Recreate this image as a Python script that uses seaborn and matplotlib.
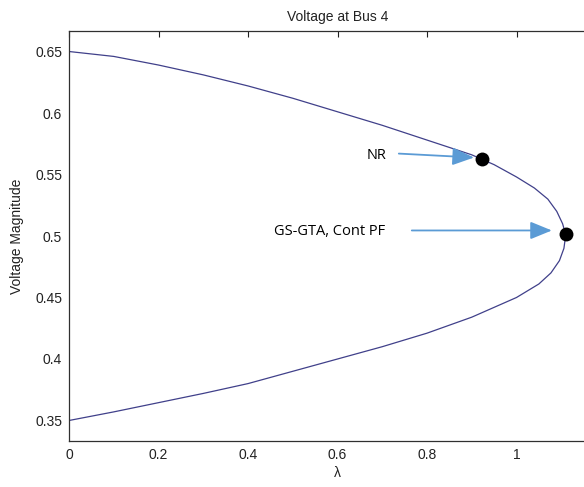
import numpy as np
import pandas as pd
import matplotlib
matplotlib.use("Agg")
import matplotlib.pyplot as plt
import seaborn as sns
from matplotlib.ticker import FuncFormatter

# PV (nose) curve: lambda vs voltage magnitude, traced from upper branch to lower branch
lam = [0.0, 0.1, 0.2, 0.3, 0.4, 0.5, 0.6, 0.7, 0.8, 0.9, 0.95, 1.0, 1.04, 1.07,
       1.09, 1.103, 1.110, 1.106, 1.096, 1.077, 1.05, 1.0, 0.95, 0.9, 0.8, 0.7,
       0.6, 0.5, 0.4, 0.3, 0.2, 0.1, 0.0]
volt = [0.650, 0.646, 0.639, 0.631, 0.622, 0.612, 0.601, 0.590, 0.578, 0.566, 0.558,
        0.548, 0.539, 0.530, 0.520, 0.510, 0.501, 0.490, 0.480, 0.470, 0.461, 0.450,
        0.442, 0.434, 0.421, 0.410, 0.400, 0.390, 0.380, 0.372, 0.3645, 0.357, 0.350]

# Solution points
pt_names = ["NR", "GS-GTA, Cont PF"]
pt_lam = [0.923, 1.110]
pt_volt = [0.563, 0.502]

# Annotation text positions and arrow tails / heads
txt_x = [0.664, 0.458]
txt_y = [0.5655, 0.5037]
tail_x = [0.737, 0.766]
tail_y = [0.567, 0.5045]
head_x = [0.905, 1.079]
head_y = [0.5638, 0.5045]

xticks = [0, 0.2, 0.4, 0.6, 0.8, 1]
yticks = [0.35, 0.4, 0.45, 0.5, 0.55, 0.6, 0.65]

sns.set_theme(style="white")
plt.rcParams['font.family'] = ['Liberation Sans', 'DejaVu Sans']

fig = plt.figure(figsize=(5.84, 4.87), dpi=100)
ax = fig.add_axes([69/584, 46/487, 537/584, 410/487])

curve = pd.DataFrame({"lam": lam, "volt": volt})
sns.lineplot(data=curve, x="lam", y="volt", sort=False, estimator=None,
             color="#40408a", linewidth=0.9, ax=ax)

pts = pd.DataFrame({"lam": pt_lam, "volt": pt_volt, "name": pt_names})
sns.scatterplot(data=pts, x="lam", y="volt", color="black", s=100,
                linewidth=0, zorder=5, ax=ax, legend=False)

for i, name in enumerate(pt_names):
    ax.annotate("", xy=(head_x[i], head_y[i]), xytext=(tail_x[i], tail_y[i]),
                arrowprops=dict(arrowstyle="-|>,head_length=1.1,head_width=0.45",
                                color="#5b9bd5", lw=1.3, shrinkA=0, shrinkB=0))
    ax.text(txt_x[i], txt_y[i], name, fontsize=10.5, family=['Open Sans', 'DejaVu Sans'],
            va="center", ha="left", color="black")

ax.set_xlim(0, 1.2)
ax.set_ylim(0.33333, 0.66667)
ax.set_xticks(xticks)
ax.set_yticks(yticks)
ax.xaxis.set_major_formatter(FuncFormatter(lambda v, p: f"{v:g}"))
ax.yaxis.set_major_formatter(FuncFormatter(lambda v, p: f"{v:g}"))

for s in ax.spines.values():
    s.set_color("#303030")
    s.set_linewidth(0.9)
ax.tick_params(axis="both", direction="in", length=4, width=0.8, color="#202020",
               labelsize=10, labelcolor="#222222", top=True, right=True, pad=5)

ax.set_title("Voltage at Bus 4", fontsize=10, color="#222222", pad=7)
ax.set_xlabel("λ", fontsize=10, color="#222222", labelpad=3)
ax.set_ylabel("Voltage Magnitude", fontsize=10, color="#222222", labelpad=8)

fig.savefig("out.png", dpi=100)
